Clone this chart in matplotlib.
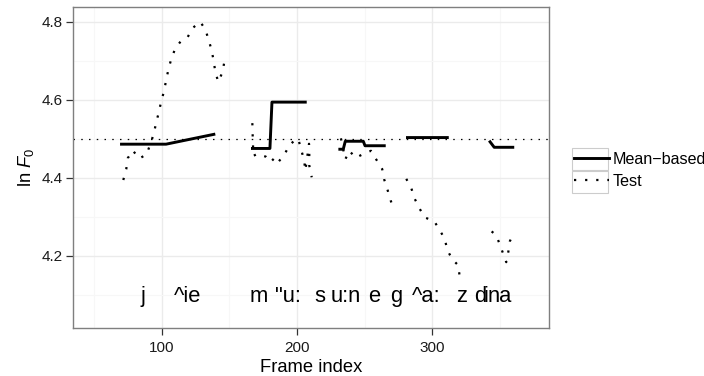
import numpy as np
import matplotlib
matplotlib.use("Agg")
import matplotlib.pyplot as plt
from matplotlib.lines import Line2D
from matplotlib.patches import Rectangle

nan = np.nan

# Test series (NaN separates voiced stretches)
test_x = [71.6, 73.8, 74.9, 78.6, 83.4, 88.9, 94.1, 95.8, 97.8, 99.5, 101.7, 103.2, 104.9,
          106.9, 109.8, 114.0, 119.2, 123.1, 128.5, 132.2, 134.7, 136.9, 138.4, 139.6,
          141.8, 144.8, 146.3, 149.5, nan,
          167.0, 167.2, 167.5, 167.7, 170.7, 176.9, 180.6, 183.2, 185.7, 190.6, 194.6,
          199.3, 201.0, 203.0, 205.2, 206.2, 208.9, 209.1, 209.1, 210.9, nan,
          232.5, 235.7, 238.7, 243.4, 248.0, 254.7, 258.9, 263.0, 264.5, 267.0, 269.3,
          271.9, nan,
          280.8, 284.5, 287.0, 290.4, 294.4, 301.5, 305.4, 309.2, 311.1, 314.6, 319.2,
          320.2, nan,
          343.9, 347.3, 350.2, 352.8, 354.7, 356.2, 357.4, 359.4]
test_y = [4.394, 4.422, 4.450, 4.470, 4.449, 4.460, 4.512, 4.540, 4.567, 4.594, 4.622, 4.649,
          4.677, 4.703, 4.730, 4.750, 4.761, 4.785, 4.800, 4.781, 4.754, 4.727, 4.700, 4.672,
          4.646, 4.670, 4.697, 4.697, nan,
          4.540, 4.512, 4.484, 4.456, 4.461, 4.454, 4.440, 4.450, 4.438, 4.459, 4.484,
          4.499, 4.499, 4.473, 4.446, 4.418, 4.487, 4.459, 4.431, 4.401, nan,
          4.501, 4.447, 4.469, 4.451, 4.459, 4.469, 4.445, 4.422, 4.395, 4.368, 4.341,
          4.315, nan,
          4.397, 4.373, 4.346, 4.322, 4.298, 4.288, 4.266, 4.243, 4.215, 4.191, 4.175,
          4.148, nan,
          4.262, 4.252, 4.226, 4.201, 4.183, 4.209, 4.237, 4.252]

# Mean-based series
mean_x = [69.2, 103.2, 139.6, nan,
          166.0, 180.0, 181.5, 207.2, nan,
          230.6, 234.2, 235.7, 249.0, 250.3, 265.6, nan,
          280.6, 312.2, nan,
          342.1, 345.8, 360.6]
mean_y = [4.486, 4.486, 4.512, nan,
          4.475, 4.475, 4.594, 4.594, nan,
          4.473, 4.473, 4.4935, 4.4935, 4.482, 4.482, nan,
          4.503, 4.503, nan,
          4.495, 4.478, 4.478]

ref_level = 4.5

# phone labels
phone_labels = ["j", "^ie", "m", "\"u:", "s", "u:n", "e", "g", "^a:", "z", "d", "i", "na"]
phone_x = [86.2, 119.4, 171.9, 193.3, 216.8, 235.8, 257.2, 273.2, 295.4, 321.5, 335.3, 339.9, 350.0]
phone_y = 4.080

xticks = [100, 200, 300]
yticks = [4.2, 4.4, 4.6, 4.8]

plt.rcParams['font.family'] = ['Liberation Sans', 'DejaVu Sans']
plt.rcParams['mathtext.fontset'] = 'custom'
plt.rcParams['mathtext.rm'] = 'Liberation Sans'
plt.rcParams['mathtext.it'] = 'Liberation Sans:italic'

fig = plt.figure(figsize=(7.04, 3.76), dpi=100)
ax = fig.add_axes([72.7/704, 1-328/376, (549-72.7)/704, (328-6.7)/376])

ax.set_xlim(34.2, 386.3)
ax.set_ylim(4.014, 4.839)

ax.set_xticks(xticks)
ax.set_yticks(yticks)
ax.set_xticks([50, 150, 250, 350], minor=True)
ax.set_yticks([4.1, 4.3, 4.5, 4.7], minor=True)
ax.grid(True, which='major', color='#EBEBEB', lw=1.0)
ax.grid(True, which='minor', color='#F7F7F7', lw=0.8)
ax.set_axisbelow(True)
ax.tick_params(which='minor', length=0)
ax.tick_params(which='major', length=5, width=0.9, color='#333333', labelsize=11,
               labelcolor='#1a1a1a')
ax.tick_params(axis='x', pad=4.5)
ax.tick_params(axis='y', pad=2)
for s in ax.spines.values():
    s.set_color('#7F7F7F')
    s.set_linewidth(1.0)

ax.axhline(ref_level, color='black', lw=0.9, linestyle=(0, (1.2, 5.0)))

ax.plot(test_x, test_y, color='black', lw=1.6, linestyle=(0, (1, 4)), solid_capstyle='butt')
ax.plot(mean_x, mean_y, color='black', lw=2.1, solid_capstyle='butt')

for lab, x in zip(phone_labels, phone_x):
    ax.text(x, phone_y, lab, ha='center', va='baseline', fontsize=15.8, color='black')

ax.set_xlabel('Frame index', fontsize=13.2, labelpad=3)
ax.set_ylabel(r'ln $F_0$', fontsize=13.2, labelpad=4)

# legend
handles = [Line2D([], [], color='black', lw=2.1),
           Line2D([], [], color='black', lw=1.6, linestyle=(0, (1, 4)))]
leg = fig.legend(handles, ['Mean\u2212based', 'Test'], loc='center left',
                 bbox_to_anchor=(573.5/704, 1-170.4/376), frameon=False,
                 handlelength=2.2, handletextpad=0.2, labelspacing=0.42, fontsize=11.6,
                 borderpad=0, borderaxespad=0)
for yc in (159.3, 181.5):
    fig.patches.append(Rectangle((571.7/704, 1-(yc+11)/376), 36.6/704, 22/376,
                                 transform=fig.transFigure, fill=False,
                                 edgecolor='#CCCCCC', lw=0.8))

fig.savefig('out.png', dpi=100)
